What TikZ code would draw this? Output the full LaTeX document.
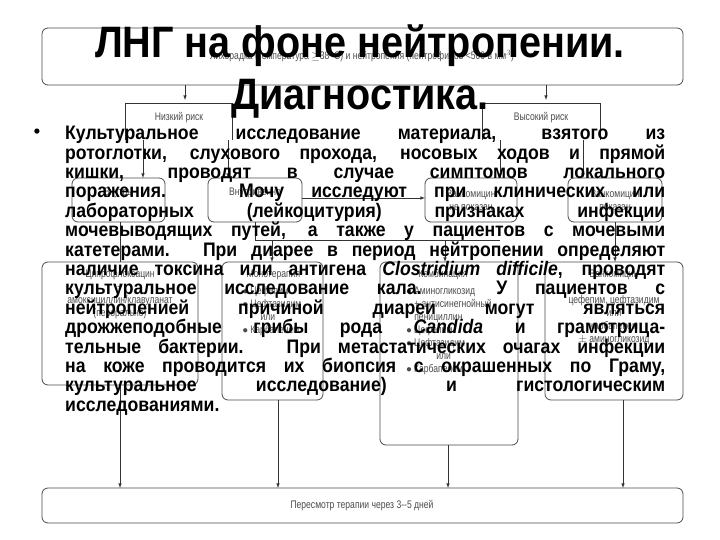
\documentclass[tikz,border=0pt]{standalone}
\usepackage{fontspec}
\setmainfont{Liberation Sans}
\newfontfamily\narrowf[FakeStretch=0.78]{Liberation Sans}
\newfontfamily\titlef[FakeStretch=0.9]{Liberation Sans}
\newfontfamily\bodyf[FakeStretch=0.9]{Liberation Sans}
\begin{document}
\begin{tikzpicture}[x=1pt,y=-1pt,
  fbox/.style={draw=black!70,rounded corners=6pt,line width=0.8pt,fill=white},
  ftext/.style={font=\narrowf\fontsize{11}{13}\selectfont,text=black!70,align=center},
  conn/.style={draw=black!80,line width=0.6pt},
  arr/.style={conn,-latex}]
\useasboundingbox (0,0) rectangle (720,540);
\fill[white] (0,0) rectangle (720,540);
% boxes
\draw[fbox] (42,28) rectangle (683,85);
\node[ftext] (top) at (362,56) {Лихорадка (температура $\geq$38$^\circ$C) и нейтропения (нейтрофилов <500 в мм$^3$)};
\coordinate (topL) at (185,85); \coordinate (topR) at (546,85);
\draw[conn] (125,140) -- (125,103) -- (232,103) -- (232,140);
\node[ftext] (low) at (179,118) {Низкий риск};
\draw[conn] (482,140) -- (482,103) -- (600,103) -- (600,140);
\node[ftext] (high) at (541,118) {Высокий риск};
\draw[arr] (topL) -- (185,100);
\draw[arr] (topR) -- (546,100);
\draw[fbox] (72,178) rectangle (165,222); \node[ftext] (po) at (118,193) {Внутрь};
\draw[fbox] (208,178) rectangle (302,222); \node[ftext] (iv) at (255,193) {Внутривенно};
\draw[fbox] (425,178) rectangle (517,222); \node[ftext] (vn) at (471,200) {Ванкомицин\\не показан};
\draw[fbox] (568,178) rectangle (662,222); \node[ftext] (vy) at (615,200) {Ванкомицин\\показан};
\draw[arr] (143,140) -- (143,178);
\draw[arr] (228,140) -- (228,178);
\draw[arr] (500,140) -- (500,178);
\draw[arr] (583,140) -- (583,178);
\draw[arr] (302,198) -- (425,198);
\draw[fbox] (42,262) rectangle (198,385);
\node[ftext,anchor=north] (c1) at (120,266) {Ципрофлоксацин\\+\\амоксициллин/клавуланат\\(перорально)};
\draw[fbox] (222,262) rectangle (323,400);
\node[ftext,anchor=north,align=left] (c2) at (272,266) {\hspace*{4pt}Монотерапия\\[4pt]$\bullet$ Цефепим\\$\bullet$ Цефтазидим\\\hspace*{18pt}или\\$\bullet$ Карбапенем};
\draw[fbox] (380,262) rectangle (518,445);
\node[ftext,anchor=north,align=left] (c3) at (449,266) {\hspace*{12pt}Комбинация\\[4pt]$\bullet$ Аминогликозид\\\hspace*{8pt}+ антисинегнойный\\\hspace*{8pt}пенициллин\\$\bullet$ Цефепим\\$\bullet$ Цефтазидим\\\hspace*{30pt}или\\$\bullet$ Карбапенем};
\draw[fbox] (545,262) rectangle (683,400);
\node[ftext,anchor=north] (c4) at (614,266) {Ванкомицин\\+\\цефепим, цефтазидим\\или\\карбапенем\\$\pm$ аминогликозид};
\draw[conn] (120,222) -- (120,262);
\draw[conn] (255,222) -- (255,240) -- (500,240);
\draw[arr] (272,240) -- (272,262);
\draw[arr] (445,240) -- (445,262);
\draw[arr] (615,222) -- (615,262);
\draw[fbox] (42,488) rectangle (683,523);
\node[ftext] (rev) at (362,506) {Пересмотр терапии через 3--5 дней};
\draw[arr] (120,385) -- (120,488);
\draw[arr] (278,400) -- (278,488);
\draw[arr] (448,445) -- (448,488);
\draw[arr] (623,400) -- (623,488);
% title and text
\node[font=\titlef\bfseries\fontsize{44}{52}\selectfont,align=center] (title) at (360,72) {ЛНГ на фоне нейтропении.\\Диагностика.};
\node[font=\bfseries\fontsize{18}{19.3}\selectfont] (bul) at (37,133) {•};
\node[anchor=north west,inner sep=0pt,text width=600pt,align=justify,font=\bodyf\bfseries\fontsize{19.6}{19.4}\selectfont] (body) at (65,126) {\hyphenpenalty=10000\sloppy
Культуральное исследование материала, взятого из\linebreak
ротоглотки, слухового прохода, носовых ходов и прямой\linebreak
кишки, проводят в случае симптомов локального\linebreak
поражения. Мочу исследуют при клинических или\linebreak
лабораторных (лейкоцитурия) признаках инфекции\linebreak
мочевыводящих путей, а также у пациентов с мочевыми\linebreak
катетерами. При диарее в период нейтропении определяют\linebreak
наличие токсина или антигена \textit{Clostridium difficile}, проводят\linebreak
культуральное исследование кала. У пациентов с\linebreak
нейтропенией причиной диареи могут являться\linebreak
дрожжеподобные грибы рода \textit{Candida} и грамотрица-\linebreak
тельные бактерии. При метастатических очагах инфекции\linebreak
на коже проводится их биопсия с окрашенных по Граму,\linebreak
культуральное исследование) и гистологическим\linebreak
исследованиями.};
\end{tikzpicture}
\end{document}
